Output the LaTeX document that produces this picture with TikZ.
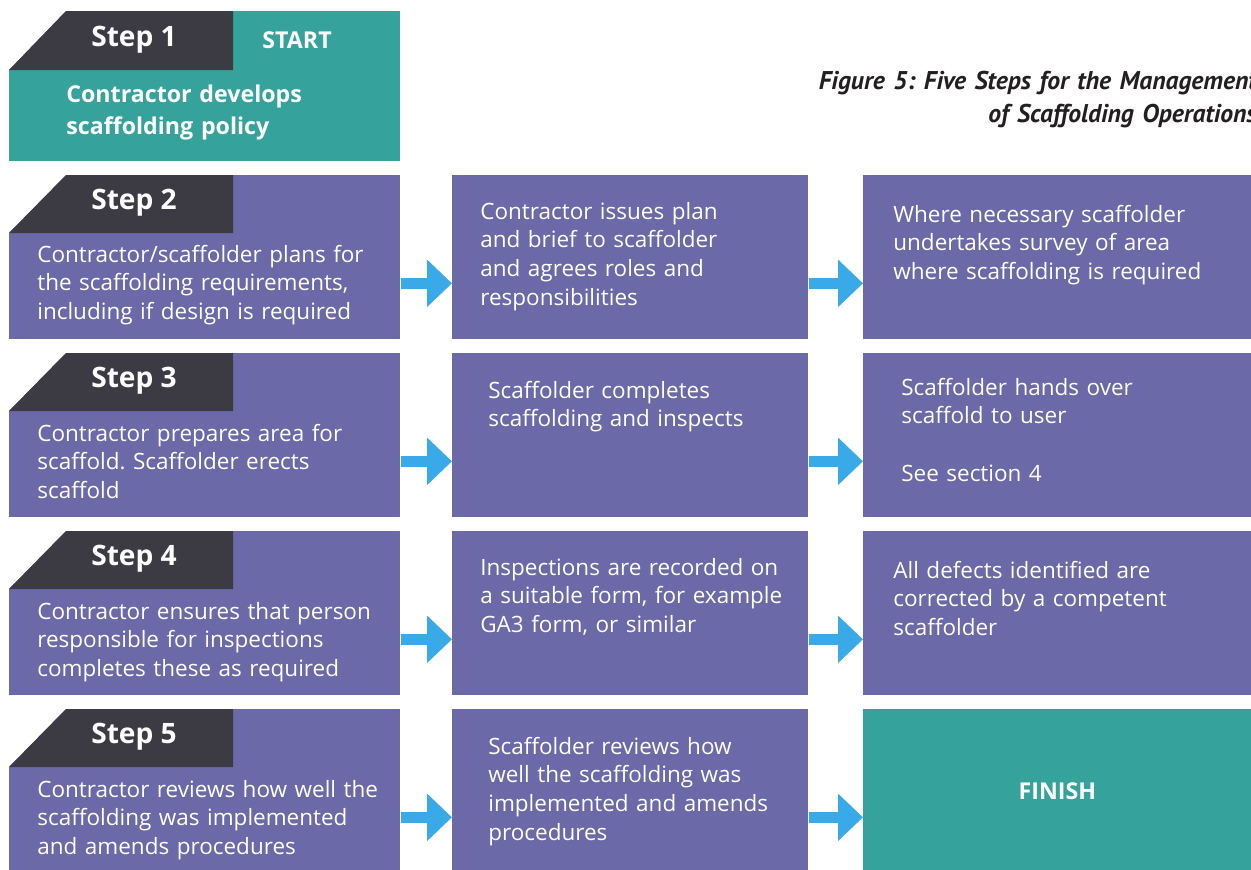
\documentclass[tikz,border=0pt]{standalone}
\usepackage{fontspec}
\setmainfont{Open Sans}
\newfontfamily\titlefont{PT Sans}
\frenchspacing
\usetikzlibrary{arrows.meta}
\definecolor{stepteal}{HTML}{35A39B}
\definecolor{steppurple}{HTML}{6B69A8}
\definecolor{tabdark}{HTML}{3C3A43}
\definecolor{arrowblue}{HTML}{3AA9E7}
\definecolor{titlegray}{HTML}{231F20}
\tikzset{
  box/.style={fill=steppurple, inner sep=0pt, anchor=north west, minimum height=3.28cm},
  boxtext/.style={text=white, anchor=base west, inner sep=0pt, align=left, text width=7.6cm, font=\fontsize{12.8}{16.4}\selectfont},
  boldtext/.style={text=white, font=\bfseries\fontsize{13.2}{18.7}\selectfont},
  steplabel/.style={text=white, font=\bfseries\fontsize{16}{20}\selectfont},
  flowarrow/.style={draw=arrowblue, line width=0.21cm, -{Triangle[length=0.5cm,width=0.92cm]}},
}
\begin{document}
\begin{tikzpicture}[x=0.02cm, y=-0.02cm]
  \useasboundingbox (0,0) rectangle (1251,869);

  % Step 1
  \node[box, fill=stepteal, minimum width=7.82cm, minimum height=3cm] (s1) at (9,11) {};
  \fill[white] (s1.north west) -- ++(57,0) -- ++(-57,59) -- cycle;
  \fill[tabdark] (s1.north west) ++(0,59) -- ++(57,-59) -- ++(167,0) -- ++(0,59) -- cycle;
  \node[steplabel] (l1) at (134,40) {Step 1};
  \node[boldtext] (start) at (297,40) {START};
  \node[boldtext, anchor=base west, inner sep=0pt, align=left, text width=7cm] (st1) at (66,102) {Contractor develops\\scaffolding policy};

  % Title
  \node[text=titlegray, font=\titlefont\bfseries\itshape\fontsize{14.6}{19.3}\selectfont, anchor=base east, inner sep=0pt, align=right, text width=10cm] (title) at (1257,89) {Figure 5: Five Steps for the Management\\of Scaffolding Operations};

  % Steps 2 to 5
  \foreach \n/\y in {2/175,3/353,4/531,5/709} {
    \node[box, minimum width=7.82cm] (s\n) at (9,\y) {};
    \node[box, minimum width=7.12cm] (m\n) at (452,\y) {};
    \fill[white] (s\n.north west) -- ++(57,0) -- ++(-57,58) -- cycle;
    \fill[tabdark] (s\n.north west) ++(0,58) -- ++(57,-58) -- ++(167,0) -- ++(0,58) -- cycle;
    \node[steplabel] (l\n) at (134,\y+28) {Step \n};
    \draw[flowarrow] ([yshift=-0.52cm]s\n.east) -- ([yshift=-0.52cm]m\n.west);
  }
  \foreach \n/\y in {2/175,3/353,4/531} {
    \node[box, minimum width=7.76cm] (r\n) at (863,\y) {};
    \draw[flowarrow] ([yshift=-0.52cm]m\n.east) -- ([yshift=-0.52cm]r\n.west);
  }
  \node[box, fill=stepteal, minimum width=7.76cm, boldtext] (finish) at (863,709) {FINISH};
  \draw[flowarrow] ([yshift=-0.52cm]m5.east) -- ([yshift=-0.52cm]finish.west);

  % Left column texts
  \node[boxtext] (st2) at (37,262) {Contractor/scaffolder plans for\\the scaffolding requirements,\\including if design is required};
  \node[boxtext] (st3) at (37,441) {Contractor prepares area for\\scaffold. Scaffolder erects\\scaffold};
  \node[boxtext] (st4) at (37,619) {Contractor ensures that person\\responsible for inspections\\completes these as required};
  \node[boxtext] (st5) at (37,797) {Contractor reviews how well the\\scaffolding was implemented\\and amends procedures};

  % Middle column texts
  \node[boxtext] (mt2) at (480,219) {Contractor issues plan\\and brief to scaffolder\\and agrees roles and\\responsibilities};
  \node[boxtext] (mt3) at (488,398) {Scaffolder completes\\scaffolding and inspects};
  \node[boxtext] (mt4) at (480,575) {Inspections are recorded on\\a suitable form, for example\\GA3 form, or similar};
  \node[boxtext] (mt5) at (488,754) {Scaffolder reviews how\\well the scaffolding was\\implemented and amends\\procedures};

  % Right column texts
  \node[boxtext] (rt2) at (893,222) {Where necessary scaffolder\\undertakes survey of area\\where scaffolding is required};
  \node[boxtext] (rt3) at (901,395) {Scaffolder hands over\\scaffold to user\\[16.4pt]See section 4};
  \node[boxtext] (rt4) at (893,578) {All defects identified are\\corrected by a competent\\scaffolder};
\end{tikzpicture}
\end{document}
